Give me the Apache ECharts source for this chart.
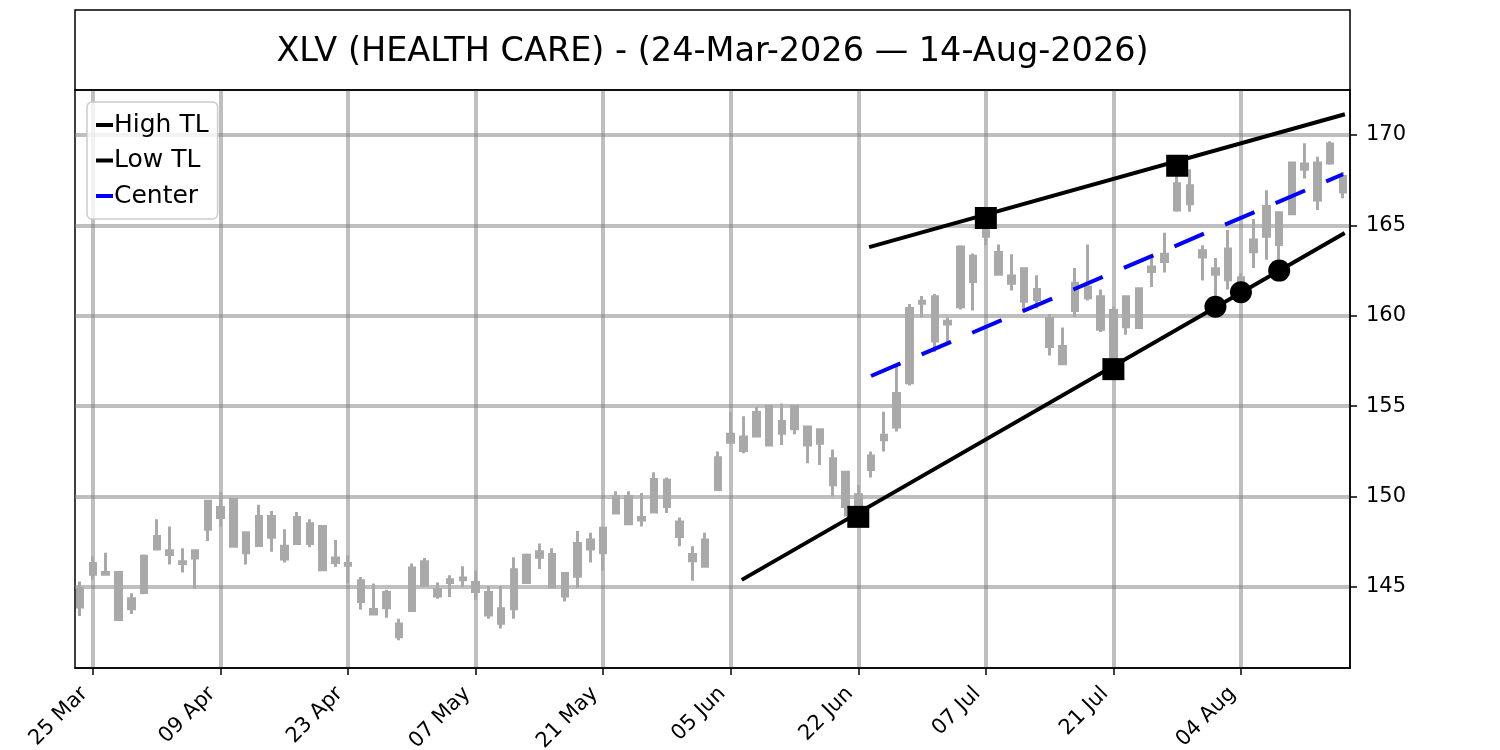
<!DOCTYPE html>
<html><head><meta charset="utf-8">
<script src="https://cdn.jsdelivr.net/npm/echarts@6/dist/echarts.min.js"></script>
<style>html,body{margin:0;padding:0;background:#fff}#chart{width:1500px;height:750px}</style>
</head><body><div id="chart"></div>
<script>
const titleText = 'XLV (HEALTH CARE) - (24-Mar-2026 — 14-Aug-2026)';
// trading days (2026), by month
const monthDays = [
  ['03', [24,25,26,27,30,31]],
  ['04', [1,2,6,7,8,9,10,13,14,15,16,17,20,21,22,23,24,27,28,29,30]],
  ['05', [1,4,5,6,7,8,11,12,13,14,15,18,19,20,21,22,26,27,28,29]],
  ['06', [1,2,3,4,5,8,9,10,11,12,15,16,17,18,22,23,24,25,26,29,30]],
  ['07', [1,2,6,7,8,9,10,13,14,15,16,17,20,21,22,23,24,27,28,29,30,31]],
  ['08', [3,4,5,6,7,10,11,12,13,14]]
];
const dates = [];
monthDays.forEach(([m, ds]) => ds.forEach(d => dates.push('2026-' + m + '-' + String(d).padStart(2, '0'))));

// [open, close, low, high]
const ohlc = [
  [143.9,144.9,143.4,145.3],[145.7,146.3,145.4,146.7],[145.8,145.7,145.7,146.9],[145.8,143.2,143.15,145.85],
  [143.8,144.35,143.5,144.65],[144.7,146.7,144.6,146.8],[147.1,147.8,147.05,148.75],[147.0,146.8,146.25,148.35],
  [146.4,146.3,145.8,147.15],[147.0,146.6,144.9,147.0],[148.2,149.75,147.55,149.8],[149.4,148.85,148.35,150.25],
  [149.85,147.25,147.2,149.9],[148.0,146.9,146.25,148.05],[147.3,148.9,147.3,149.55],[148.9,147.75,146.95,149.2],
  [147.25,146.55,146.35,148.2],[147.4,148.85,147.35,149.15],[148.5,147.4,147.2,148.75],[148.35,145.95,145.9,148.4],
  [146.6,146.35,146.1,147.6],[146.3,146.2,145.2,146.75],[145.35,144.2,143.75,145.55],[143.75,143.5,143.5,145.2],
  [143.85,144.7,143.3,144.85],[142.95,142.25,142.05,143.25],[143.7,146.05,143.65,146.3],[146.4,145.1,145.1,146.6],
  [144.85,144.5,144.35,145.25],[145.25,145.4,144.45,145.65],[145.4,145.5,145.0,146.15],[145.25,144.75,144.3,145.9],
  [144.7,143.45,143.25,145.05],[143.0,143.8,142.7,145.05],[143.8,145.95,143.25,146.65],[145.25,146.75,145.2,146.85],
  [146.95,146.65,146.0,147.4],[146.8,145.0,144.95,147.15],[144.5,145.75,144.2,145.8],[145.6,147.4,144.95,148.1],
  [147.1,147.6,146.35,148.0],[146.9,148.25,145.9,148.3],[149.1,150.0,149.05,150.3],[150.0,148.5,148.5,150.3],
  [148.85,148.7,148.35,150.2],[149.15,150.95,149.1,151.35],[150.9,149.45,149.1,151.05],[148.6,147.8,147.25,148.85],
  [146.8,146.45,145.35,147.25],[146.15,147.6,146.1,148.0],[150.4,152.15,150.35,152.5],[153.0,153.45,152.95,154.7],
  [153.3,152.55,152.4,154.45],[153.35,154.65,153.3,154.95],[155.0,152.85,152.8,155.05],[153.5,154.15,152.85,155.15],
  [155.0,153.75,153.45,155.05],[153.85,152.85,151.85,153.9],[152.95,153.7,151.75,153.75],[152.1,150.65,150.0,152.6],
  [151.35,149.45,148.9,151.4],[149.4,150.1,148.9,150.65],[151.5,152.25,151.05,152.5],[153.15,153.4,152.5,154.7],
  [153.85,155.7,153.6,157.25],[156.3,160.4,156.15,160.65],[160.7,160.8,159.9,161.1],[161.05,158.6,158.0,161.2],
  [159.55,159.7,158.5,159.9],[160.5,163.8,160.35,163.9],[163.3,161.9,160.3,163.45],[164.4,165.3,163.9,165.5],
  [163.5,162.3,162.3,163.95],[162.2,161.8,161.4,163.4],[162.6,160.8,160.2,162.65],[160.9,161.45,160.4,162.25],
  [159.85,158.3,157.8,160.1],[158.3,157.35,157.3,159.35],[160.3,161.8,159.95,162.65],[161.6,161.0,160.85,163.95],
  [161.05,159.25,159.1,161.45],[160.3,157.3,156.8,160.5],[159.4,161.05,158.95,161.1],[159.35,161.5,159.3,161.55],
  [162.45,162.7,161.6,163.25],[163.0,163.4,162.4,164.6],[165.85,167.3,165.75,168.2],[167.2,166.2,165.75,168.1],
  [163.6,163.25,161.95,163.9],[162.3,162.6,161.05,163.2],[162.0,163.7,161.45,164.75],[161.6,162.1,161.0,162.35],
  [163.55,164.2,162.65,165.35],[164.4,166.05,163.1,166.95],[165.7,163.95,163.1,165.75],[165.65,168.45,165.6,168.5],
  [168.1,168.4,167.6,169.55],[168.45,166.4,165.85,168.8],[168.45,169.5,168.35,169.65],[167.7,166.85,166.5,167.95]
];

const xTickDates = ['2026-03-25','2026-04-09','2026-04-23','2026-05-07','2026-05-21','2026-06-05','2026-06-22','2026-07-07','2026-07-21','2026-08-04'];
const yTicks = [145,150,155,160,165,170];
const monthNames = ['Jan','Feb','Mar','Apr','May','Jun','Jul','Aug','Sep','Oct','Nov','Dec'];

const highTL = [['2026-06-23',163.83],['2026-08-14',171.12]];
const lowTL = [['2026-06-08',145.45],['2026-08-14',164.53]];
const centerTL = [['2026-06-23',156.67],['2026-08-14',167.83]];
const highPivots = [['2026-07-07',165.41],['2026-07-28',168.30]];
const lowPivots = [['2026-06-22',148.88],['2026-07-21',157.05]];
const touches = [['2026-07-31',160.5],['2026-08-04',161.3],['2026-08-07',162.5]];

const idx = d => dates.indexOf(d);
const toXY = arr => arr.map(([d, v]) => [idx(d), v]);
const fmtDate = v => {
  const d = dates[Math.round(v)];
  if (!d) return '';
  const p = d.split('-');
  return p[2] + ' ' + monthNames[parseInt(p[1], 10) - 1];
};

const FONT = 'DejaVu Sans';
const gridColor = 'rgba(128,128,128,0.5)';
const candleColor = '#a9a9a9';
const xTickIdx = xTickDates.map(idx);

const chart = echarts.init(document.getElementById('chart'), null, {renderer: 'canvas'});
chart.setOption({
  animation: false,
  backgroundColor: '#fff',
  graphic: [
    {type: 'rect', shape: {x: 75, y: 10, width: 1275, height: 80}, style: {fill: 'none', stroke: '#000', lineWidth: 1.5}, z: 100},
    {type: 'text', x: 712.5, y: 52, style: {text: titleText, font: '33.5px "DejaVu Sans"', fill: '#000', textAlign: 'center', textVerticalAlign: 'middle', align: 'center', verticalAlign: 'middle'}, z: 100}
  ],
  grid: {left: 75, top: 90, width: 1275, height: 578, show: true, borderColor: '#000', borderWidth: 1.5,
    backgroundColor: 'transparent', containLabel: false, outerBoundsMode: 'none'},
  legend: {
    data: ['High TL', 'Low TL', 'Center'],
    orient: 'vertical', left: 87, top: 102,
    padding: [9, 9, 9, 9],
    itemGap: 7.5, itemWidth: 17, itemHeight: 4, icon: 'rect',
    backgroundColor: 'rgba(255,255,255,0.8)', borderColor: '#cccccc', borderWidth: 1.5, borderRadius: 5,
    itemStyle: {borderWidth: 0},
    lineStyle: {type: 'solid', width: 0},
    textStyle: {fontFamily: FONT, fontSize: 25, color: '#000', lineHeight: 28, padding: [0, 0, 0, -4]},
    z: 50
  },
  xAxis: {
    type: 'value', min: -0.41, max: 99.55,
    axisLine: {show: true, onZero: false, lineStyle: {color: '#000', width: 1.5}},
    axisTick: {show: true, length: 7, lineStyle: {color: '#000', width: 1.5}, customValues: xTickIdx},
    axisLabel: {customValues: xTickIdx, formatter: fmtDate, rotate: 45, margin: 14, padding: [0, 12, 0, 0],
      fontFamily: FONT, fontSize: 21, color: '#000'},
    splitLine: {show: true, lineStyle: {color: gridColor, width: 4}}
  },
  yAxis: {
    type: 'value', position: 'right', min: 140.52, max: 172.49, scale: true,
    axisLine: {show: true, onZero: false, lineStyle: {color: '#000', width: 1.5}},
    axisTick: {show: true, length: 7, lineStyle: {color: '#000', width: 1.5}, customValues: yTicks},
    axisLabel: {customValues: yTicks, margin: 16, fontFamily: FONT, fontSize: 21, color: '#000'},
    splitLine: {show: true, lineStyle: {color: gridColor, width: 4}}
  },
  series: [
    {
      name: 'Price', type: 'candlestick',
      data: ohlc.map((c, i) => [i, c[0], c[1], c[2], c[3]]),
      encode: {x: 0, y: [1, 2, 3, 4]},
      barWidth: 6,
      itemStyle: {color: candleColor, color0: candleColor, borderColor: candleColor, borderColor0: candleColor, borderColorDoji: candleColor, borderWidth: 3},
      z: 2
    },
    {
      name: 'High TL', type: 'line', data: toXY(highTL), showSymbol: false, symbol: 'none',
      itemStyle: {color: '#000'}, lineStyle: {color: '#000', width: 4, cap: 'square'}, z: 5
    },
    {
      name: 'Low TL', type: 'line', data: toXY(lowTL), showSymbol: false, symbol: 'none',
      itemStyle: {color: '#000'}, lineStyle: {color: '#000', width: 4, cap: 'square'}, z: 5
    },
    {
      name: 'Center', type: 'line', data: toXY(centerTL), showSymbol: false, symbol: 'none',
      itemStyle: {color: '#0000ff'}, lineStyle: {color: '#0000ff', width: 4, type: [32, 23]}, z: 5
    },
    {
      name: 'High pivots', type: 'scatter', data: toXY(highPivots), symbol: 'rect', symbolSize: 22,
      itemStyle: {color: '#000', opacity: 1}, z: 6
    },
    {
      name: 'Low pivots', type: 'scatter', data: toXY(lowPivots), symbol: 'rect', symbolSize: 22,
      itemStyle: {color: '#000', opacity: 1}, z: 6
    },
    {
      name: 'Touches', type: 'scatter', data: toXY(touches), symbol: 'circle', symbolSize: 22,
      itemStyle: {color: '#000', opacity: 1}, z: 6
    }
  ]
});
</script>
</body></html>
